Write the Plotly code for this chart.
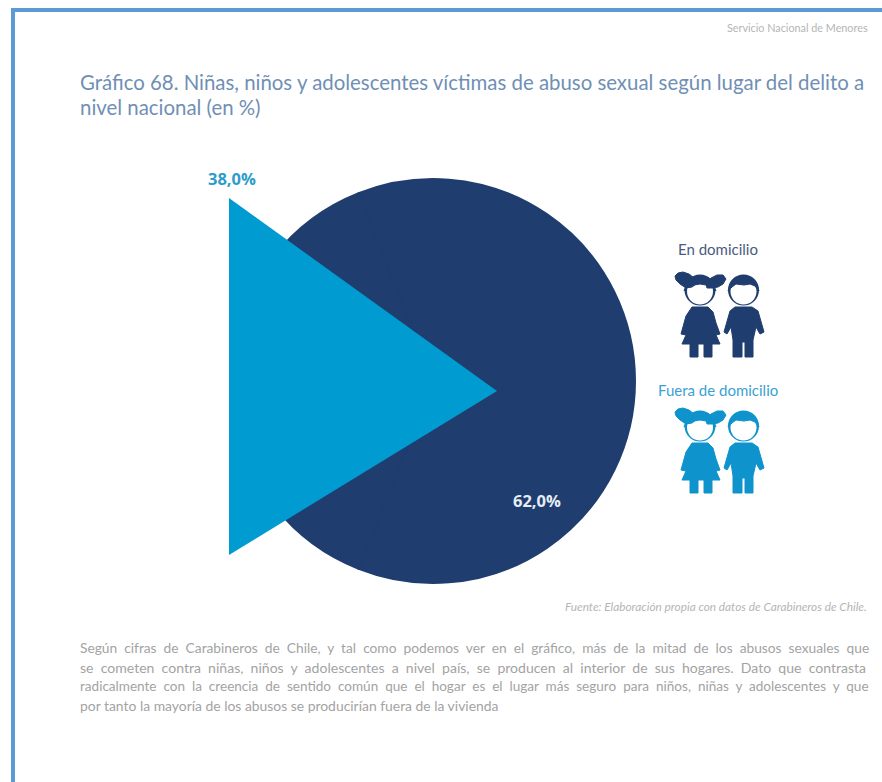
import plotly.graph_objects as go

# ---- data ----
CATEGORIES = ["En domicilio", "Fuera de domicilio"]
VALUES = [62.0, 38.0]
TITLE_LINES = ["Gráfico 68. Niñas, niños y adolescentes víctimas de abuso sexual según lugar del delito a",
               "nivel nacional (en %)"]
HEADER = "Servicio Nacional de Menores"
SOURCE = "Fuente: Elaboración propia con datos de Carabineros de Chile."
BODY_LINES = [
    "Según cifras de Carabineros de Chile, y tal como podemos ver en el gráfico, más de la mitad de los abusos sexuales que",
    "se cometen contra niñas, niños y adolescentes a nivel país, se producen al interior de sus hogares. Dato que contrasta",
    "radicalmente con la creencia de sentido común que el hogar es el lugar más seguro para niños, niñas y adolescentes y que",
    "por tanto la mayoría de los abusos se producirían fuera de la vivienda",
]
BODY_SIZES = [13.75, 14.05, 13.55, 13.9]
BODY_JUSTIFIED = [True, True, True, False]
# outline of the emphasised 38 % wedge, in page units
WEDGE_X = [229, 497, 229]
WEDGE_Y = [198, 391, 555]

# icon outlines (page units, first icon)
GIRL_BODY_X = [692, 708, 713, 716, 720, 716, 720, 712, 712, 704, 704, 698, 698, 690, 690, 682, 686, 681, 686]
GIRL_BODY_Y = [307, 307, 312, 323, 334, 335, 344, 344, 357, 357, 344, 344, 357, 357, 344, 344, 335, 334, 316]
GIRL_TAIL_L_X = [675, 678, 683, 689, 694, 696, 692, 686, 680, 676]
GIRL_TAIL_L_Y = [276, 273, 272, 274, 278, 284, 287, 288, 284, 280]
GIRL_TAIL_R_X = [706, 711, 717, 723, 726, 723, 718, 712, 707]
GIRL_TAIL_R_Y = [284, 278, 275, 275, 279, 284, 287, 288, 288]
GIRL_HAIR_X = [684, 688, 694, 700, 706, 712, 716, 712, 706, 700, 694, 688]
GIRL_HAIR_Y = [291, 282, 278, 277, 278, 282, 291, 287, 285, 284, 285, 287]
BOY_BODY_X = [735, 752, 758, 761, 764, 760, 756, 753, 753, 745, 745, 742, 742, 733, 733, 731, 727, 724, 727, 730]
BOY_BODY_Y = [307, 307, 311, 321, 332, 334, 327, 340, 357, 357, 342, 342, 357, 357, 340, 327, 334, 332, 321, 311]
BOY_HAIR_X = [728, 731, 737, 744, 751, 756, 759, 755, 750, 744, 736, 732]
BOY_HAIR_Y = [291, 282, 278, 276, 278, 282, 291, 286, 284, 285, 284, 287]
HEAD_X = [700, 743.5]
HEAD_Y = [290, 290]
FACE_Y = [291.5, 291.5]
ICON_OFFSETS = [0, 136]

DARK = "#1f3d6e"
LIGHT = "#009bd0"
W, H = 882, 782
CX, CY, R = 433, 381, 202


def pct(v):
    return f"{v:.1f}%".replace(".", ",")


def spread(line):
    return line.replace(" ", " \u00a0")


fig = go.Figure()

fig.add_trace(go.Pie(
    labels=CATEGORIES, values=VALUES, sort=False, direction="clockwise",
    rotation=-21.6, textinfo="none", hoverinfo="label+percent", showlegend=False,
    marker=dict(colors=[DARK, DARK], line=dict(color=DARK, width=2)),
    domain=dict(x=[(CX - R) / W, (CX + R) / W], y=[1 - (CY + R) / H, 1 - (CY - R) / H]),
))

for off, col in zip(ICON_OFFSETS, [DARK, "#0f93cc"]):
    xs, ys = [], []
    for px, py in [(GIRL_BODY_X, GIRL_BODY_Y), (BOY_BODY_X, BOY_BODY_Y)]:
        xs += px + [px[0], None]
        ys += [v + off for v in py] + [py[0] + off, None]
    fig.add_trace(go.Scatter(x=xs, y=ys, mode="lines", fill="toself", fillcolor=col,
                             line=dict(color=col, width=1), hoverinfo="skip", showlegend=False))
    fig.add_trace(go.Scatter(x=HEAD_X, y=[v + off for v in HEAD_Y], mode="markers",
                             marker=dict(color=col, size=31), hoverinfo="skip", showlegend=False))
    fig.add_trace(go.Scatter(x=HEAD_X, y=[v + off for v in FACE_Y], mode="markers",
                             marker=dict(color="white", size=26), hoverinfo="skip", showlegend=False))
    xs, ys = [], []
    for px, py in [(GIRL_TAIL_L_X, GIRL_TAIL_L_Y), (GIRL_TAIL_R_X, GIRL_TAIL_R_Y),
                   (GIRL_HAIR_X, GIRL_HAIR_Y), (BOY_HAIR_X, BOY_HAIR_Y)]:
        xs += px + [px[0], None]
        ys += [v + off for v in py] + [py[0] + off, None]
    fig.add_trace(go.Scatter(x=xs, y=ys, mode="lines", fill="toself", fillcolor=col,
                             line=dict(color=col, width=1), hoverinfo="skip", showlegend=False))

shapes = [
    dict(type="path", xref="x", yref="y", layer="above", fillcolor=LIGHT, line=dict(width=0),
         path="M " + " L ".join(f"{x},{y}" for x, y in zip(WEDGE_X, WEDGE_Y)) + " Z"),
    dict(type="line", xref="x", yref="y", x0=13, x1=882, y0=10, y1=10, line=dict(color="#5b9bd5", width=4)),
    dict(type="line", xref="x", yref="y", x0=13, x1=13, y0=8, y1=782, line=dict(color="#5b9bd5", width=4)),
]


def note(x, y, text, size, color, anchor="left", family="Lato"):
    return dict(x=x, y=y, xref="x", yref="y", text=text, showarrow=False, xanchor=anchor, yanchor="middle",
                font=dict(family=family, size=size, color=color), borderpad=0, borderwidth=0)


ann = [
    note(868, 27, HEADER, 10.8, "#b5b5b5", "right"),
    note(80, 82, TITLE_LINES[0], 20.4, "#6f8fb5"),
    note(80, 107, TITLE_LINES[1], 20.4, "#6f8fb5"),
    note(232, 178, f"<b>{pct(VALUES[1])}</b>", 16.5, "#2c9ccb", "center", "Open Sans"),
    note(537, 500, f"<b>{pct(VALUES[0])}</b>", 16.5, "#e6edf5", "center", "Open Sans"),
    note(718, 249, CATEGORIES[0], 15, "#4a5a80", "center"),
    note(718, 390, CATEGORIES[1], 15, "#3aa2d2", "center"),
    note(867, 606, f"<i>{SOURCE}</i>", 11.8, "#b5b5b5", "right"),
]
for y, line, size, just in zip([647, 667, 686, 705], BODY_LINES, BODY_SIZES, BODY_JUSTIFIED):
    ann.append(note(80, y, spread(line) if just else line, size, "#a3a3a3"))

fig.update_layout(
    width=W, height=H, margin=dict(l=0, r=0, t=0, b=0), paper_bgcolor="white", plot_bgcolor="white",
    xaxis=dict(range=[0, W], visible=False, fixedrange=True),
    yaxis=dict(range=[H, 0], visible=False, fixedrange=True),
    shapes=shapes, annotations=ann,
)

fig.write_html("out.html", config={"displayModeBar": False},
               post_script="document.body.style.margin='0';document.body.style.overflow='hidden';")
